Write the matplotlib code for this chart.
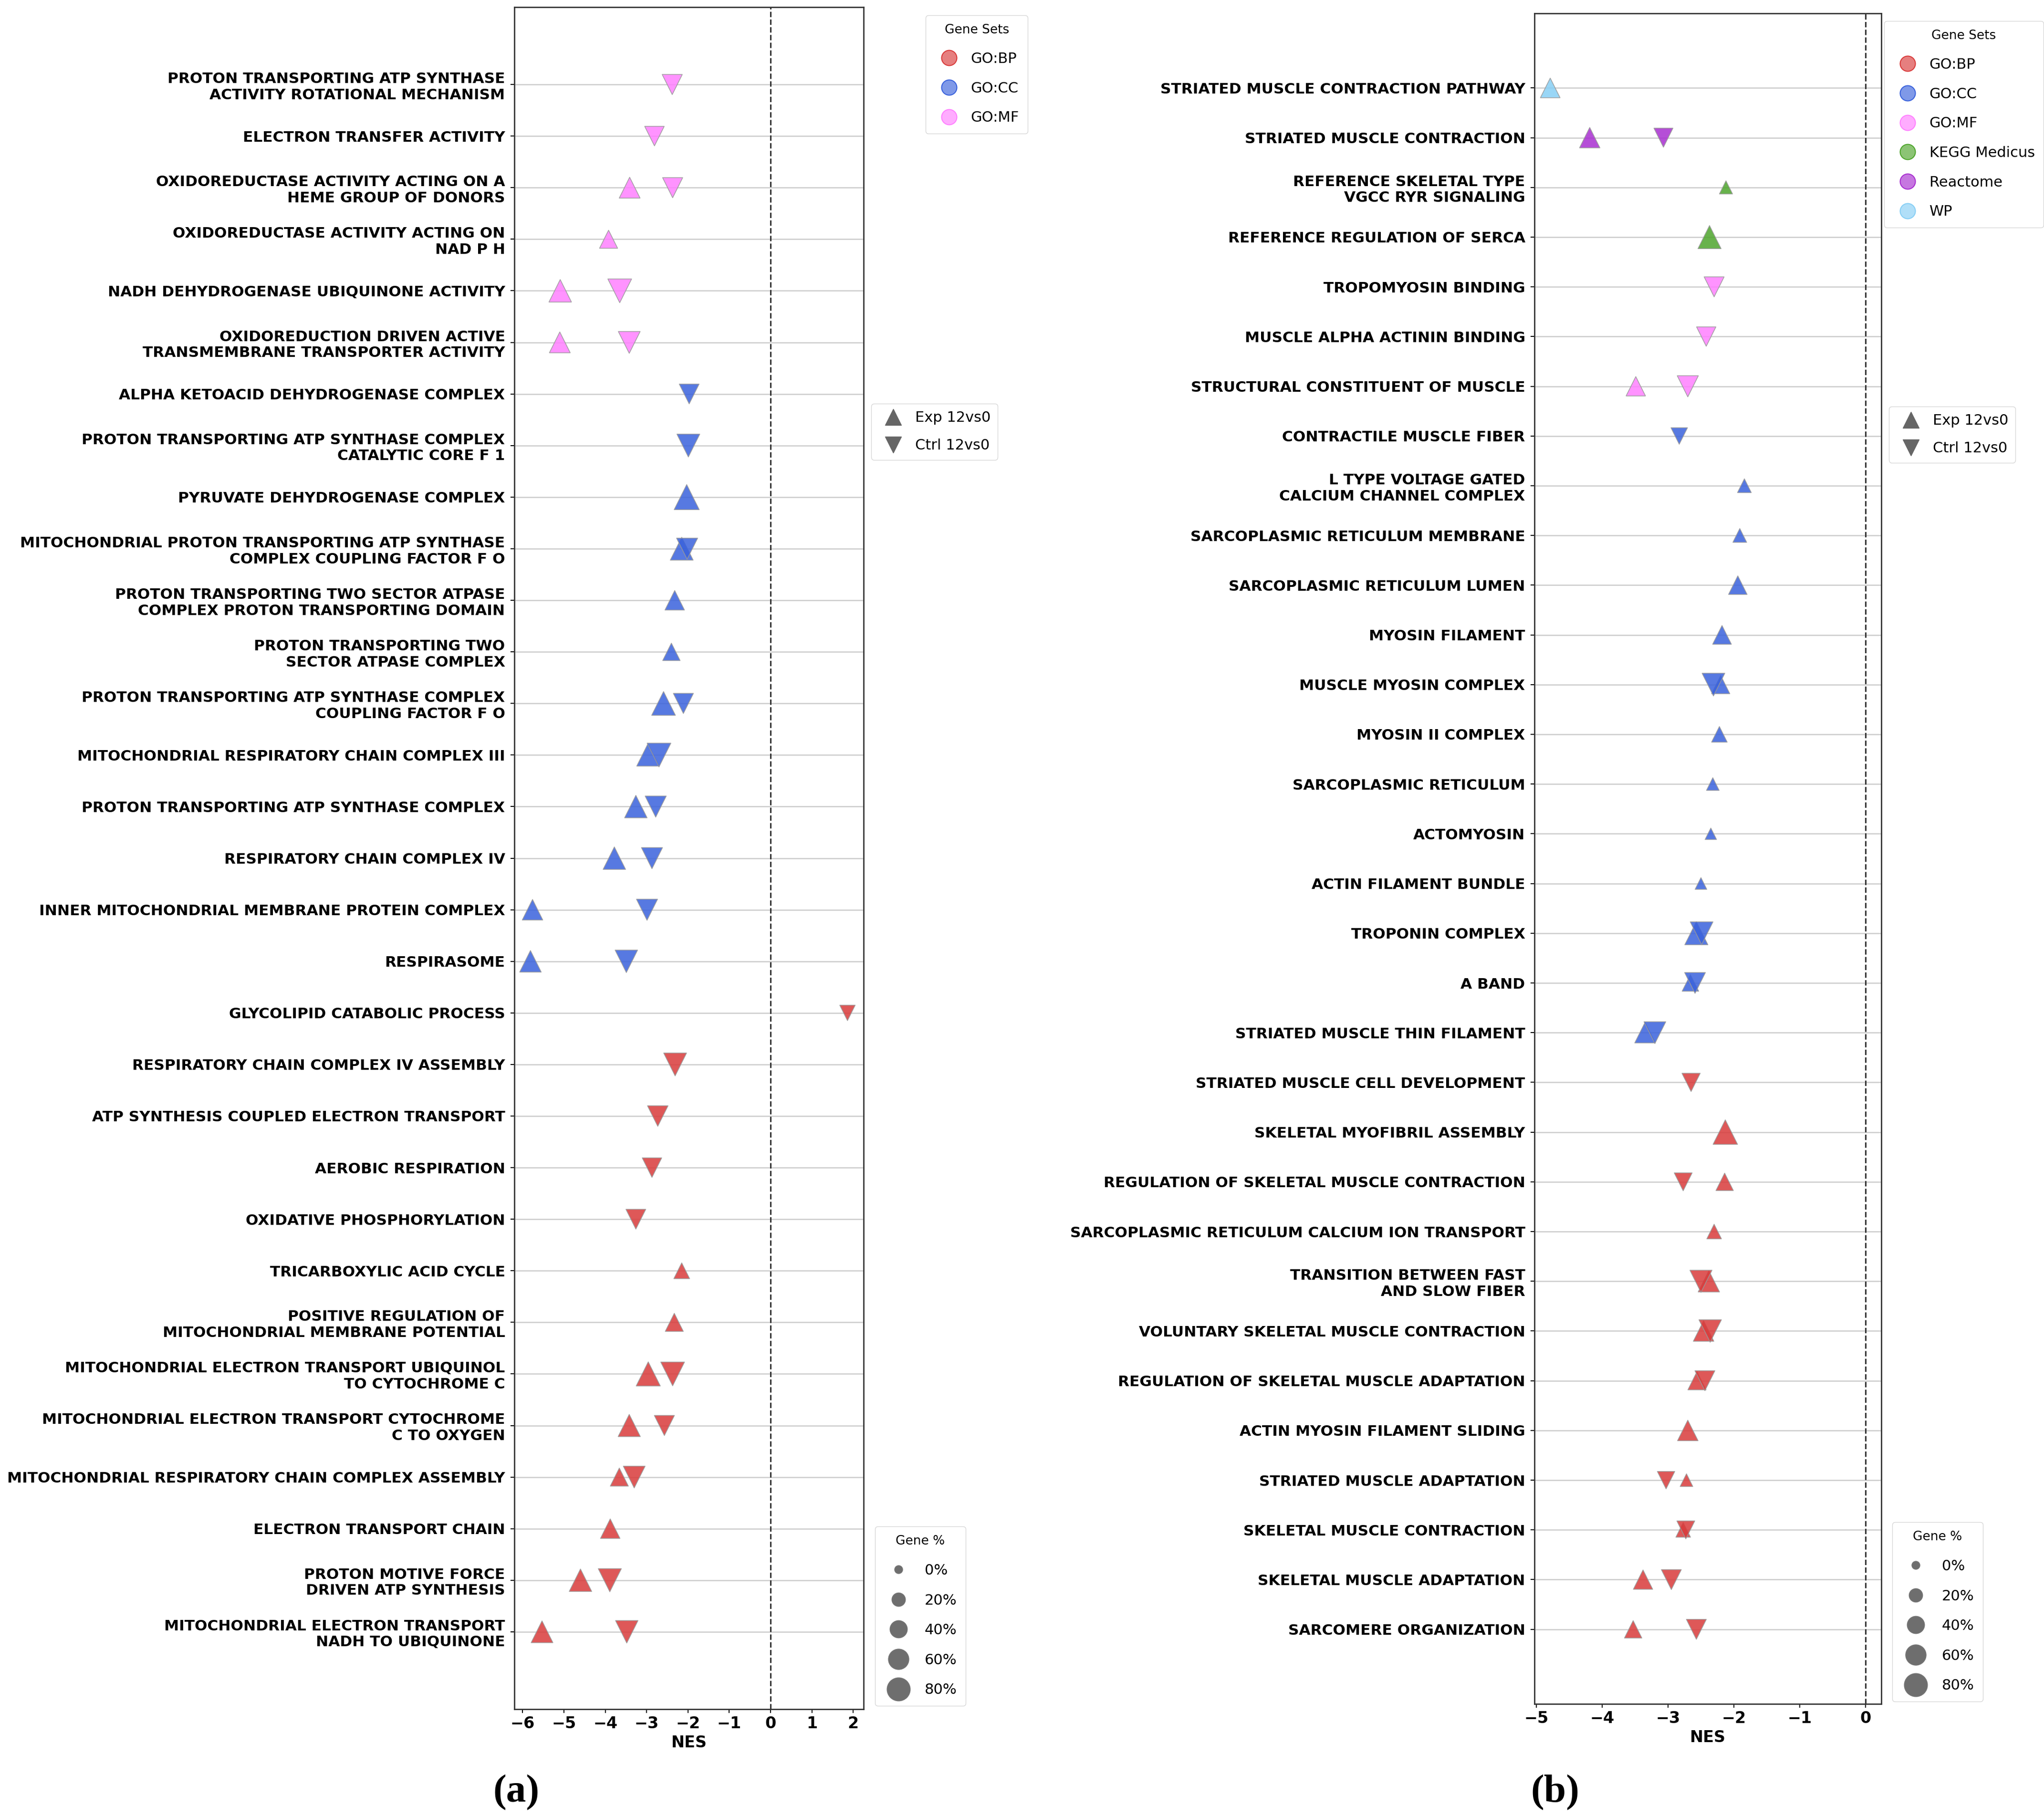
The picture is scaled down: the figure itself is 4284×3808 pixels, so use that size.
import numpy as np
import matplotlib
matplotlib.use("Agg")
import matplotlib.pyplot as plt
from matplotlib.lines import Line2D
from matplotlib.colors import to_rgba

nan = np.nan

# ---------------- panel (a) ----------------
terms_a = [
    "PROTON TRANSPORTING ATP SYNTHASE\nACTIVITY ROTATIONAL MECHANISM",
    "ELECTRON TRANSFER ACTIVITY",
    "OXIDOREDUCTASE ACTIVITY ACTING ON A\nHEME GROUP OF DONORS",
    "OXIDOREDUCTASE ACTIVITY ACTING ON\nNAD P H",
    "NADH DEHYDROGENASE UBIQUINONE ACTIVITY",
    "OXIDOREDUCTION DRIVEN ACTIVE\nTRANSMEMBRANE TRANSPORTER ACTIVITY",
    "ALPHA KETOACID DEHYDROGENASE COMPLEX",
    "PROTON TRANSPORTING ATP SYNTHASE COMPLEX\nCATALYTIC CORE F 1",
    "PYRUVATE DEHYDROGENASE COMPLEX",
    "MITOCHONDRIAL PROTON TRANSPORTING ATP SYNTHASE\nCOMPLEX COUPLING FACTOR F O",
    "PROTON TRANSPORTING TWO SECTOR ATPASE\nCOMPLEX PROTON TRANSPORTING DOMAIN",
    "PROTON TRANSPORTING TWO\nSECTOR ATPASE COMPLEX",
    "PROTON TRANSPORTING ATP SYNTHASE COMPLEX\nCOUPLING FACTOR F O",
    "MITOCHONDRIAL RESPIRATORY CHAIN COMPLEX III",
    "PROTON TRANSPORTING ATP SYNTHASE COMPLEX",
    "RESPIRATORY CHAIN COMPLEX IV",
    "INNER MITOCHONDRIAL MEMBRANE PROTEIN COMPLEX",
    "RESPIRASOME",
    "GLYCOLIPID CATABOLIC PROCESS",
    "RESPIRATORY CHAIN COMPLEX IV ASSEMBLY",
    "ATP SYNTHESIS COUPLED ELECTRON TRANSPORT",
    "AEROBIC RESPIRATION",
    "OXIDATIVE PHOSPHORYLATION",
    "TRICARBOXYLIC ACID CYCLE",
    "POSITIVE REGULATION OF\nMITOCHONDRIAL MEMBRANE POTENTIAL",
    "MITOCHONDRIAL ELECTRON TRANSPORT UBIQUINOL\nTO CYTOCHROME C",
    "MITOCHONDRIAL ELECTRON TRANSPORT CYTOCHROME\nC TO OXYGEN",
    "MITOCHONDRIAL RESPIRATORY CHAIN COMPLEX ASSEMBLY",
    "ELECTRON TRANSPORT CHAIN",
    "PROTON MOTIVE FORCE\nDRIVEN ATP SYNTHESIS",
    "MITOCHONDRIAL ELECTRON TRANSPORT\nNADH TO UBIQUINONE",
]
cat_a = ["GO:MF"] * 6 + ["GO:CC"] * 12 + ["GO:BP"] * 13
exp_nes_a = [nan, nan, -3.41, -3.92, -5.09, -5.10, nan, nan, -2.03, -2.15,
             -2.32, -2.40, -2.59, -2.97, -3.26, -3.78, -5.76, -5.81, nan, nan,
             nan, nan, nan, -2.15, -2.33, -2.96, -3.42, -3.66, -3.88, -4.60, -5.53]
exp_pct_a = [nan, nan, 62, 44, 74, 62, nan, nan, 95, 77,
             53, 40, 84, 72, 74, 74, 60, 67, nan, nan,
             nan, nan, nan, 31, 44, 87, 72, 44, 53, 74, 69]
ctrl_nes_a = [-2.38, -2.81, -2.37, nan, -3.65, -3.42, -1.97, -1.99, nan, -2.02,
              nan, nan, -2.11, -2.70, -2.78, -2.87, -2.99, -3.49, 1.86, -2.31,
              -2.73, -2.87, -3.26, nan, nan, -2.37, -2.57, -3.30, nan, -3.89, -3.48]
ctrl_pct_a = [57, 53, 57, nan, 84, 69, 55, 77, nan, 64,
              nan, nan, 57, 84, 64, 64, 64, 74, 29, 77,
              60, 53, 55, nan, nan, 84, 57, 69, nan, 79, 74]

# ---------------- panel (b) ----------------
terms_b = [
    "STRIATED MUSCLE CONTRACTION PATHWAY",
    "STRIATED MUSCLE CONTRACTION",
    "REFERENCE SKELETAL TYPE\nVGCC RYR SIGNALING",
    "REFERENCE REGULATION OF SERCA",
    "TROPOMYOSIN BINDING",
    "MUSCLE ALPHA ACTININ BINDING",
    "STRUCTURAL CONSTITUENT OF MUSCLE",
    "CONTRACTILE MUSCLE FIBER",
    "L TYPE VOLTAGE GATED\nCALCIUM CHANNEL COMPLEX",
    "SARCOPLASMIC RETICULUM MEMBRANE",
    "SARCOPLASMIC RETICULUM LUMEN",
    "MYOSIN FILAMENT",
    "MUSCLE MYOSIN COMPLEX",
    "MYOSIN II COMPLEX",
    "SARCOPLASMIC RETICULUM",
    "ACTOMYOSIN",
    "ACTIN FILAMENT BUNDLE",
    "TROPONIN COMPLEX",
    "A BAND",
    "STRIATED MUSCLE THIN FILAMENT",
    "STRIATED MUSCLE CELL DEVELOPMENT",
    "SKELETAL MYOFIBRIL ASSEMBLY",
    "REGULATION OF SKELETAL MUSCLE CONTRACTION",
    "SARCOPLASMIC RETICULUM CALCIUM ION TRANSPORT",
    "TRANSITION BETWEEN FAST\nAND SLOW FIBER",
    "VOLUNTARY SKELETAL MUSCLE CONTRACTION",
    "REGULATION OF SKELETAL MUSCLE ADAPTATION",
    "ACTIN MYOSIN FILAMENT SLIDING",
    "STRIATED MUSCLE ADAPTATION",
    "SKELETAL MUSCLE CONTRACTION",
    "SKELETAL MUSCLE ADAPTATION",
    "SARCOMERE ORGANIZATION",
]
cat_b = (["WP", "Reactome"] + ["KEGG Medicus"] * 2 + ["GO:MF"] * 3
         + ["GO:CC"] * 13 + ["GO:BP"] * 12)
exp_nes_b = [-4.79, -4.19, -2.12, -2.37, nan, nan, -3.49, nan, -1.84, -1.91,
             -1.94, -2.18, -2.20, -2.22, -2.32, -2.35, -2.50, -2.57, -2.66, -3.35,
             nan, -2.13, -2.14, -2.30, -2.38, -2.46, -2.56, -2.70, -2.72, -2.77,
             -3.38, -3.53]
exp_pct_b = [54, 59, 18, 79, nan, nan, 52, nan, 21, 21,
             47, 48, 45, 30, 16, 11, 12, 79, 35, 60,
             nan, 90, 40, 25, 66, 60, 45, 60, 16, 25,
             52, 40]
ctrl_nes_b = [nan, -3.07, nan, nan, -2.30, -2.42, -2.70, -2.83, nan, nan,
              nan, nan, -2.31, nan, nan, nan, nan, -2.49, -2.59, -3.20,
              -2.65, nan, -2.77, nan, -2.50, -2.36, -2.44, nan, -3.03, -2.73,
              -2.95, -2.57]
ctrl_pct_b = [nan, 50, nan, nan, 56, 52, 64, 35, nan, nan,
              nan, nan, 76, nan, nan, nan, nan, 76, 62, 69,
              45, nan, 43, nan, 71, 74, 56, nan, 40, 43,
              56, 56]

palette = {
    "GO:BP": "#d93b3b",
    "GO:CC": "#3a62dc",
    "GO:MF": "#ff80ff",
    "KEGG Medicus": "#4ea52c",
    "Reactome": "#a82fd0",
    "WP": "#87cff5",
}
size_levels = [0, 20, 40, 60, 80]


def pct_to_size(p):
    return 150 + 13.5 * np.asarray(p, dtype=float)


W, H = 4284, 3808
fig = plt.figure(figsize=(W / 100, H / 100), dpi=100)


def draw_panel(rect, terms, cats, e_nes, e_pct, c_nes, c_pct, xlim, xticks):
    ax = fig.add_axes(rect)
    y = np.arange(len(terms))
    cols = [palette[c] for c in cats]
    for yy in y:
        ax.axhline(yy, color="#cccccc", lw=1.8, zorder=0)
    ax.axvline(0, color="#333333", ls="--", lw=2.2, zorder=1)
    for nes, pct, mk in [(e_nes, e_pct, "^"), (c_nes, c_pct, "v")]:
        nes = np.asarray(nes, dtype=float)
        ok = ~np.isnan(nes)
        ax.scatter(nes[ok], y[ok], s=pct_to_size(np.asarray(pct)[ok]),
                   c=[cols[i] for i in np.where(ok)[0]], marker=mk,
                   alpha=0.85, edgecolors="#999999", linewidths=1.2, zorder=3)
    ax.set_yticks(y)
    ax.set_yticklabels(terms, fontsize=22.5, fontweight="bold")
    ax.set_ylim(len(terms) + 0.5, -1.5)
    ax.set_xlim(*xlim)
    ax.set_xticks(xticks)
    for t in ax.get_xticklabels():
        t.set_fontweight("bold")
        t.set_fontsize(24)
    ax.set_xlabel("NES", fontsize=24, fontweight="bold", labelpad=5)
    ax.tick_params(axis="y", length=6, width=1.5, pad=8)
    ax.tick_params(axis="x", length=6, width=1.5, pad=4)
    for sp in ax.spines.values():
        sp.set_linewidth(2)
        sp.set_color("#333333")
    return ax


def add_legends(cats_used, gs_xy, mk_xy, sz_xy):
    gs_handles = [Line2D([], [], ls="", marker="o", markersize=23,
                         markerfacecolor=to_rgba(palette[c], 0.65),
                         markeredgecolor=palette[c], markeredgewidth=1.5)
                  for c in cats_used]
    fig.legend(gs_handles, cats_used, title="Gene Sets", loc="upper left",
               bbox_to_anchor=(gs_xy[0] / W, 1 - gs_xy[1] / H),
               borderaxespad=0, fontsize=22, title_fontsize=19,
               labelspacing=1.07, handletextpad=0.5, borderpad=0.6)
    mk_handles = [Line2D([], [], ls="", marker=m, markersize=24,
                         color="#666666") for m in ["^", "v"]]
    fig.legend(mk_handles, ["Exp 12vs0", "Ctrl 12vs0"], loc="upper left",
               bbox_to_anchor=(mk_xy[0] / W, 1 - mk_xy[1] / H),
               borderaxespad=0, fontsize=22, labelspacing=0.95,
               handletextpad=0.5, borderpad=0.5)
    sz_handles = [Line2D([], [], ls="", marker="o",
                         markersize=np.sqrt(pct_to_size(p)),
                         markerfacecolor=to_rgba("#555555", 0.85),
                         markeredgecolor="#777777", markeredgewidth=1)
                  for p in size_levels]
    fig.legend(sz_handles, [f"{p}%" for p in size_levels], title="Gene %",
               loc="upper left",
               bbox_to_anchor=(sz_xy[0] / W, 1 - sz_xy[1] / H),
               borderaxespad=0, fontsize=22, title_fontsize=19,
               labelspacing=1.1, handletextpad=0.8, borderpad=0.6)


ax_a = draw_panel([1078 / W, 1 - 3582 / H, 732 / W, 3567 / H],
                  terms_a, cat_a, exp_nes_a, exp_pct_a, ctrl_nes_a, ctrl_pct_a,
                  (-6.2, 2.25), range(-6, 3))
ax_b = draw_panel([3216 / W, 1 - 3571 / H, 727 / W, 3543 / H],
                  terms_b, cat_b, exp_nes_b, exp_pct_b, ctrl_nes_b, ctrl_pct_b,
                  (-5.03, 0.24), range(-5, 1))

add_legends(["GO:BP", "GO:CC", "GO:MF"], (1940, 32), (1826, 846), (1834, 3199))
add_legends(["GO:BP", "GO:CC", "GO:MF", "KEGG Medicus", "Reactome", "WP"],
            (3949, 44), (3959, 852), (3966, 3190))

fig.text(1033 / W, 1 - 3757 / H, "(a)", fontsize=60, fontweight="bold",
         family="Liberation Serif", va="center", ha="left")
fig.text(3208 / W, 1 - 3757 / H, "(b)", fontsize=60, fontweight="bold",
         family="Liberation Serif", va="center", ha="left")

fig.savefig("out.png", dpi=100, facecolor="white")
